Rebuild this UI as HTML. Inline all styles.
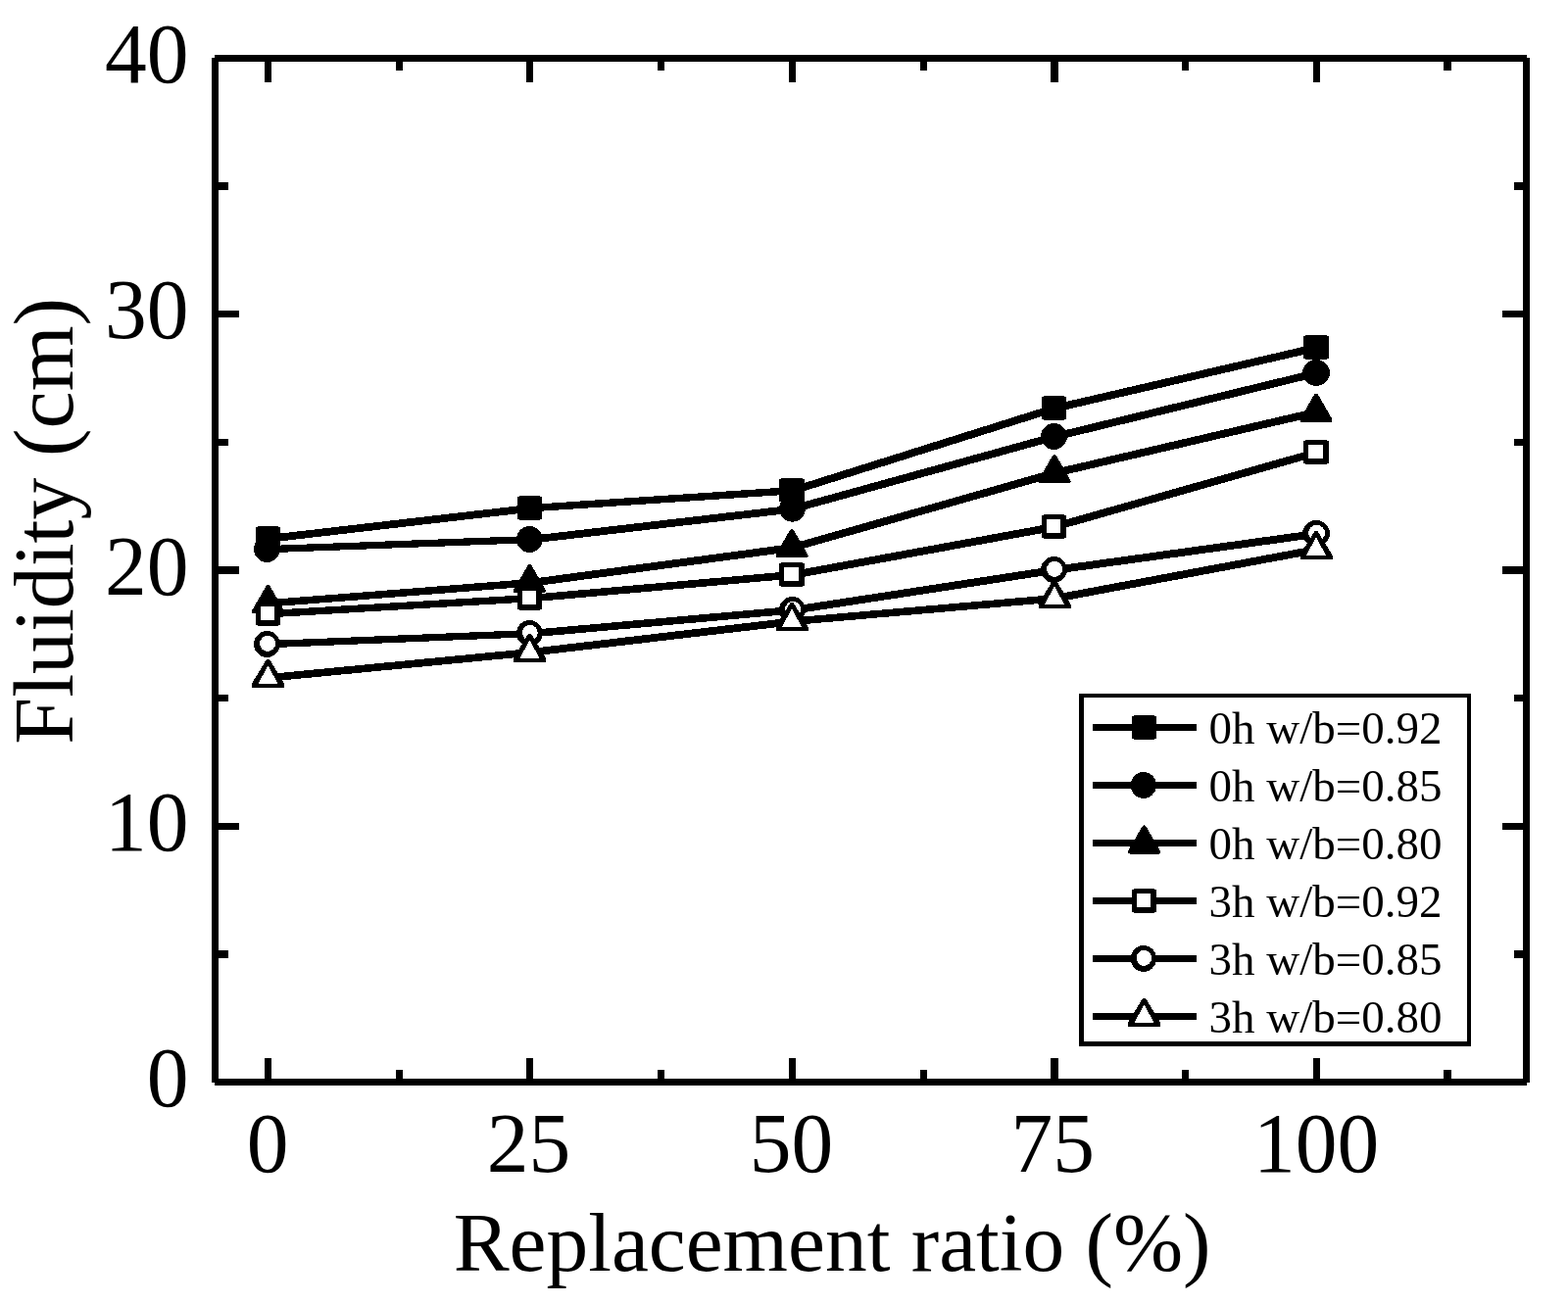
<!DOCTYPE html>
<html lang="en"><head><meta charset="utf-8"><title>Fluidity vs replacement ratio</title>
<style>html,body{margin:0;padding:0;background:#fff}body{width:1600px;height:1331px;overflow:hidden}svg{display:block}text{font-family:"Liberation Serif","DejaVu Serif",serif;fill:#000}</style>
</head><body>
<svg width="1600" height="1331" viewBox="0 0 1600 1331">
<rect width="1600" height="1331" fill="#fff"/>
<g fill="#000" shape-rendering="crispEdges">
<rect x="216" y="59" width="7" height="1046"/>
<rect x="1554" y="59" width="7" height="1046"/>
<rect x="219" y="56" width="1339" height="7"/>
<rect x="219" y="1101" width="1339" height="7"/>
<rect x="270" y="56" width="7" height="28"/>
<rect x="270" y="1080" width="7" height="28"/>
<rect x="404" y="56" width="7" height="16"/>
<rect x="404" y="1092" width="7" height="16"/>
<rect x="537" y="56" width="7" height="28"/>
<rect x="537" y="1080" width="7" height="28"/>
<rect x="671" y="56" width="7" height="16"/>
<rect x="671" y="1092" width="7" height="16"/>
<rect x="805" y="56" width="7" height="28"/>
<rect x="805" y="1080" width="7" height="28"/>
<rect x="939" y="56" width="7" height="16"/>
<rect x="939" y="1092" width="7" height="16"/>
<rect x="1072" y="56" width="8" height="28"/>
<rect x="1072" y="1080" width="8" height="28"/>
<rect x="1206" y="56" width="7" height="16"/>
<rect x="1206" y="1092" width="7" height="16"/>
<rect x="1340" y="56" width="7" height="28"/>
<rect x="1340" y="1080" width="7" height="28"/>
<rect x="1473" y="56" width="8" height="16"/>
<rect x="1473" y="1092" width="8" height="16"/>
<rect x="216" y="186" width="17" height="8"/>
<rect x="1545" y="186" width="16" height="8"/>
<rect x="216" y="317" width="28" height="7"/>
<rect x="1533" y="317" width="28" height="7"/>
<rect x="216" y="448" width="17" height="7"/>
<rect x="1545" y="448" width="16" height="7"/>
<rect x="216" y="578" width="28" height="8"/>
<rect x="1533" y="578" width="28" height="8"/>
<rect x="216" y="709" width="17" height="7"/>
<rect x="1545" y="709" width="16" height="7"/>
<rect x="216" y="840" width="28" height="7"/>
<rect x="1533" y="840" width="28" height="7"/>
<rect x="216" y="970" width="17" height="8"/>
<rect x="1545" y="970" width="16" height="8"/>
</g>
<g shape-rendering="crispEdges">
<line x1="273.50" y1="549.91" x2="540.50" y2="518.91" stroke="#000" stroke-width="7.81"/>
<line x1="540.50" y1="518.74" x2="808.50" y2="500.74" stroke="#000" stroke-width="7.47"/>
<line x1="808.50" y1="500.95" x2="1075.50" y2="416.95" stroke="#000" stroke-width="7.90"/>
<line x1="1075.50" y1="416.95" x2="1343.00" y2="354.95" stroke="#000" stroke-width="7.90"/>
<path d="M264.2 537H282.8L286 538V561L282.8 562H264.2L261 561V538Z" fill="#000"/>
<path d="M531.2 506H549.8L553 507V530L549.8 531H531.2L528 530V507Z" fill="#000"/>
<path d="M798.2 488H817.8L821 489V512L817.8 513H798.2L795 512V489Z" fill="#000"/>
<path d="M1066.2 404H1084.8L1088 405V428L1084.8 429H1066.2L1063 428V405Z" fill="#000"/>
<path d="M1333.2 342H1352.8L1356 343V366L1352.8 367H1333.2L1330 366V343Z" fill="#000"/>
<line x1="273.50" y1="560.63" x2="540.50" y2="550.63" stroke="#000" stroke-width="7.26"/>
<line x1="540.50" y1="550.91" x2="808.50" y2="519.61" stroke="#000" stroke-width="7.82"/>
<line x1="808.50" y1="519.65" x2="1075.50" y2="445.95" stroke="#000" stroke-width="7.90"/>
<line x1="1075.50" y1="445.95" x2="1343.00" y2="380.95" stroke="#000" stroke-width="7.90"/>
<ellipse cx="272.50" cy="560.50" rx="13.45" ry="13.45" fill="#000"/>
<ellipse cx="540.30" cy="550.50" rx="13.25" ry="13.45" fill="#000"/>
<ellipse cx="808.50" cy="519.20" rx="13.45" ry="13.45" fill="#000"/>
<ellipse cx="1075.50" cy="445.50" rx="13.45" ry="13.45" fill="#000"/>
<ellipse cx="1343.00" cy="380.50" rx="13.95" ry="13.45" fill="#000"/>
<line x1="273.50" y1="615.88" x2="540.50" y2="594.88" stroke="#000" stroke-width="7.55"/>
<line x1="540.50" y1="595.05" x2="808.50" y2="559.05" stroke="#000" stroke-width="7.90"/>
<line x1="808.50" y1="559.05" x2="1075.50" y2="483.05" stroke="#000" stroke-width="7.90"/>
<line x1="1075.50" y1="483.05" x2="1343.00" y2="420.75" stroke="#000" stroke-width="7.90"/>
<path d="M273.50 599.30L287.70 624.00L259.30 624.00Z" fill="#000" stroke="#000" stroke-width="4.6" stroke-linejoin="round"/>
<path d="M540.50 578.30L554.70 603.00L526.30 603.00Z" fill="#000" stroke="#000" stroke-width="4.6" stroke-linejoin="round"/>
<path d="M808.00 542.30L822.20 567.00L793.80 567.00Z" fill="#000" stroke="#000" stroke-width="4.6" stroke-linejoin="round"/>
<path d="M1076.00 466.30L1090.20 491.00L1061.80 491.00Z" fill="#000" stroke="#000" stroke-width="4.6" stroke-linejoin="round"/>
<path d="M1343.00 404.00L1357.20 428.70L1328.80 428.70Z" fill="#000" stroke="#000" stroke-width="4.6" stroke-linejoin="round"/>
<line x1="273.50" y1="626.71" x2="540.50" y2="610.71" stroke="#000" stroke-width="7.42"/>
<line x1="540.50" y1="610.81" x2="808.50" y2="586.81" stroke="#000" stroke-width="7.63"/>
<line x1="808.50" y1="586.95" x2="1075.50" y2="537.95" stroke="#000" stroke-width="7.90"/>
<line x1="1075.50" y1="537.95" x2="1343.00" y2="461.95" stroke="#000" stroke-width="7.90"/>
<path d="M264.2 614H282.8L286 615V638L282.8 639H264.2L261 638V615Z" fill="#000"/><rect x="266" y="619" width="14" height="14" fill="#fff"/>
<path d="M531.2 598H549.8L553 599V622L549.8 623H531.2L528 622V599Z" fill="#000"/><rect x="533" y="603" width="14" height="14" fill="#fff"/>
<path d="M798.2 574H817.8L821 575V598L817.8 599H798.2L795 598V575Z" fill="#000"/><rect x="800" y="579" width="15" height="14" fill="#fff"/>
<path d="M1066.2 525H1084.8L1088 526V549L1084.8 550H1066.2L1063 549V526Z" fill="#000"/><rect x="1068" y="530" width="14" height="14" fill="#fff"/>
<path d="M1333.2 449H1352.8L1356 450V473L1352.8 474H1333.2L1330 473V450Z" fill="#000"/><rect x="1335" y="454" width="15" height="14" fill="#fff"/>
<line x1="273.50" y1="657.64" x2="540.50" y2="646.64" stroke="#000" stroke-width="7.29"/>
<line x1="540.50" y1="646.81" x2="808.50" y2="622.81" stroke="#000" stroke-width="7.63"/>
<line x1="808.50" y1="622.95" x2="1075.50" y2="581.95" stroke="#000" stroke-width="7.90"/>
<line x1="1075.50" y1="581.95" x2="1343.00" y2="544.95" stroke="#000" stroke-width="7.90"/>
<ellipse cx="272.50" cy="657.50" rx="13.45" ry="13.45" fill="#000"/><ellipse cx="273.05" cy="656.90" rx="8.00" ry="8.00" fill="#fff"/>
<ellipse cx="540.30" cy="646.50" rx="13.25" ry="13.45" fill="#000"/><ellipse cx="540.85" cy="645.90" rx="7.80" ry="8.00" fill="#fff"/>
<ellipse cx="808.50" cy="622.50" rx="13.45" ry="13.45" fill="#000"/><ellipse cx="809.05" cy="621.90" rx="8.00" ry="8.00" fill="#fff"/>
<ellipse cx="1075.50" cy="581.50" rx="13.45" ry="13.45" fill="#000"/><ellipse cx="1076.05" cy="580.90" rx="8.00" ry="8.00" fill="#fff"/>
<ellipse cx="1343.00" cy="544.50" rx="13.95" ry="13.45" fill="#000"/><ellipse cx="1343.55" cy="543.90" rx="8.50" ry="8.00" fill="#fff"/>
<line x1="273.50" y1="691.94" x2="540.50" y2="665.94" stroke="#000" stroke-width="7.68"/>
<line x1="540.50" y1="666.01" x2="808.50" y2="634.41" stroke="#000" stroke-width="7.83"/>
<line x1="808.50" y1="634.31" x2="1075.50" y2="610.91" stroke="#000" stroke-width="7.61"/>
<line x1="1075.50" y1="611.05" x2="1343.00" y2="561.05" stroke="#000" stroke-width="7.90"/>
<path d="M272.00 673H275.00L290.00 697.5V702H257.00V697.5Z" fill="#000"/><path d="M273.50 679.60L283.70 698H263.30Z" fill="#fff"/>
<path d="M539.00 647H542.00L557.00 671.5V676H524.00V671.5Z" fill="#000"/><path d="M540.50 653.60L550.70 672H530.30Z" fill="#fff"/>
<path d="M806.50 615H809.50L824.50 639.5V644H791.50V639.5Z" fill="#000"/><path d="M808.00 621.60L818.20 640H797.80Z" fill="#fff"/>
<path d="M1074.50 592H1077.50L1092.50 616.5V621H1059.50V616.5Z" fill="#000"/><path d="M1076.00 598.60L1086.20 617H1065.80Z" fill="#fff"/>
<path d="M1341.50 542H1344.50L1359.50 566.5V571H1326.50V566.5Z" fill="#000"/><path d="M1343.00 548.60L1353.20 567H1332.80Z" fill="#fff"/>
</g>
<g shape-rendering="crispEdges">
<rect x="1101" y="708" width="400" height="360" fill="#000"/>
<rect x="1106" y="712" width="391" height="351" fill="#fff"/>
<rect x="1115" y="739.0" width="106" height="7" fill="#000"/>
<path d="M1158.2 730H1176.8L1180 731V754L1176.8 755H1158.2L1155 754V731Z" fill="#000"/>
<rect x="1115" y="798.0" width="106" height="7" fill="#000"/>
<ellipse cx="1166.80" cy="801.50" rx="13.15" ry="13.45" fill="#000"/>
<rect x="1115" y="857.0" width="106" height="7" fill="#000"/>
<path d="M1167.50 844.70L1181.70 869.40L1153.30 869.40Z" fill="#000" stroke="#000" stroke-width="4.6" stroke-linejoin="round"/>
<rect x="1115" y="916.0" width="106" height="7" fill="#000"/>
<path d="M1158.2 907H1176.8L1180 908V931L1176.8 932H1158.2L1155 931V908Z" fill="#000"/><rect x="1160" y="912" width="14" height="14" fill="#fff"/>
<rect x="1115" y="975.0" width="106" height="7" fill="#000"/>
<ellipse cx="1166.80" cy="978.50" rx="13.15" ry="13.45" fill="#000"/><ellipse cx="1167.35" cy="977.90" rx="7.70" ry="8.00" fill="#fff"/>
<rect x="1115" y="1034.0" width="106" height="7" fill="#000"/>
<path d="M1166.00 1019H1169.00L1184.00 1043.5V1048H1151.00V1043.5Z" fill="#000"/><path d="M1167.50 1025.60L1177.70 1044H1157.30Z" fill="#fff"/>
</g>
<g font-size="47.0px">
<text x="1233.5" y="758.60">0h w/b=0.92</text>
<text x="1233.5" y="817.70">0h w/b=0.85</text>
<text x="1233.5" y="876.80">0h w/b=0.80</text>
<text x="1233.5" y="935.90">3h w/b=0.92</text>
<text x="1233.5" y="995.00">3h w/b=0.85</text>
<text x="1233.5" y="1054.10">3h w/b=0.80</text>
</g>
<g font-size="85.5px" text-anchor="middle">
<text transform="translate(273.02 1196.1) scale(1 1.006)">0</text>
<text transform="translate(539.42 1196.1) scale(1 1.006)">25</text>
<text transform="translate(807.52 1196.1) scale(1 1.006)">50</text>
<text transform="translate(1074.32 1196.1) scale(1 1.006)">75</text>
<text transform="translate(1343.22 1196.1) scale(1 1.006)">100</text>
</g>
<g font-size="85.5px" text-anchor="end">
<text transform="translate(192.5 1129.05) scale(1 1.006)">0</text>
<text transform="translate(192.5 867.80) scale(1 1.006)">10</text>
<text transform="translate(192.5 606.55) scale(1 1.006)">20</text>
<text transform="translate(192.5 345.30) scale(1 1.006)">30</text>
<text transform="translate(192.5 84.05) scale(1 1.006)">40</text>
</g>
<text x="849.1" y="1297" font-size="85.4px" text-anchor="middle">Replacement ratio (%)</text>
<text transform="translate(73.5 531.8) rotate(-90)" font-size="85.9px" text-anchor="middle">Fluidity (cm)</text>
</svg>
</body></html>
